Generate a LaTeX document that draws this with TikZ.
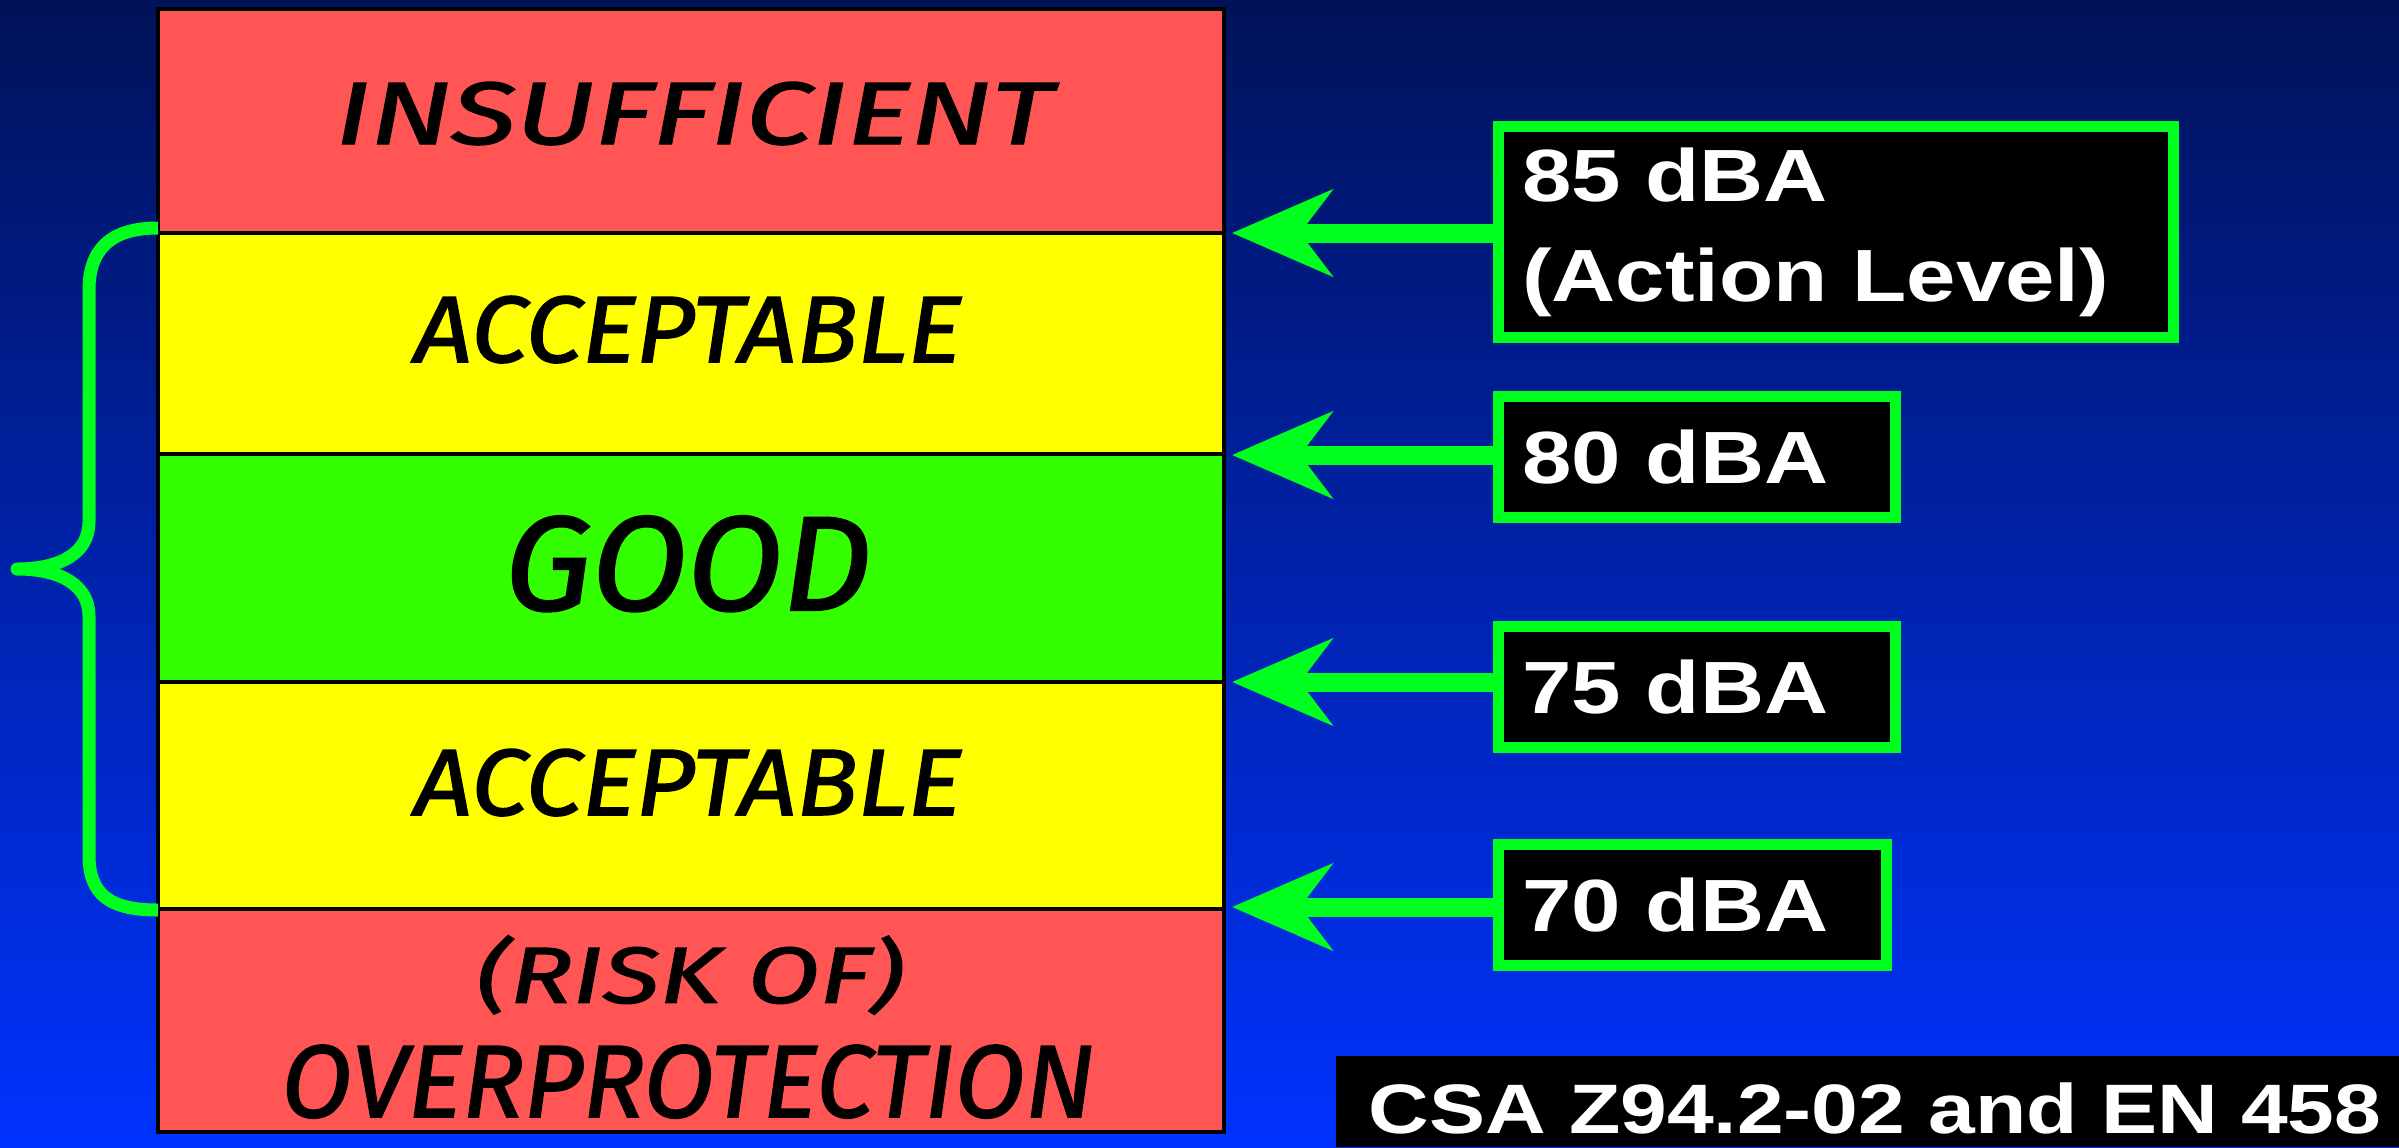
\documentclass[tikz,border=0pt]{standalone}
\usepackage{fontspec}
\usepackage{graphicx}
\usetikzlibrary{arrows.meta}
\setmainfont{Liberation Sans}
\newfontfamily\labelfont[FakeStretch=1.2]{Liberation Sans}
\newfontfamily\handfont[FakeBold=1.6]{Fira Sans}
\definecolor{bgtop}{RGB}{0,18,88}
\definecolor{bgmid}{RGB}{0,36,196}
\definecolor{bgbot}{RGB}{0,51,255}
\definecolor{bandred}{RGB}{255,85,85}
\definecolor{bandyellow}{RGB}{255,255,0}
\definecolor{bandgreen}{RGB}{51,255,0}
\definecolor{marker}{RGB}{0,255,30}
% hand-lettered zone label, fitted to a given width and cap height
\newcommand\handtext[3]{\resizebox{#1}{#2}{\handfont\itshape #3}}
\begin{document}
\begin{tikzpicture}[x=0.5pt,y=-0.5pt,
  band/.style={draw=black, line width=2pt},
  zone/.style={inner sep=0pt, text=black},
  levelbox/.style={draw=marker, fill=black, line width=5.5pt, text=white,
    font=\labelfont\bfseries\fontsize{37}{50}\selectfont,
    align=left, inner xsep=12pt, inner ysep=0pt},
  levelarrow/.style={draw=marker, line width=9.5pt,
    -{Stealth[length=50pt,width=43pt,inset=16pt]}},
  bracestyle/.style={draw=marker, line width=6.5pt, line join=round}]

% background
\useasboundingbox (0,0) rectangle (2399,1147);
\shade[top color=bgtop, middle color=bgmid, bottom color=bgbot] (0,0) rectangle (2399,1147);

% protection zones
\filldraw[band, fill=bandred]    (158,9)   rectangle (1224,233);
\filldraw[band, fill=bandyellow] (158,233) rectangle (1224,454);
\filldraw[band, fill=bandgreen]  (158,454) rectangle (1224,682);
\filldraw[band, fill=bandyellow] (158,682) rectangle (1224,909);
\filldraw[band, fill=bandred]    (158,909) rectangle (1224,1132);

\node[zone, anchor=base] (tinsuf) at (694,144) {\handtext{358.5pt}{31pt}{INSUFFICIENT}};
\node[zone, anchor=base] (tacc1) at (688,362) {\handtext{273.5pt}{33pt}{ACCEPTABLE}};
\node[zone, anchor=base] (tgood) at (688,610) {\handtext{183.5pt}{47pt}{GOOD}};
\node[zone, anchor=base] (tacc2) at (688,815) {\handtext{273.5pt}{33pt}{ACCEPTABLE}};
\node[zone] (trisk) at (690,975) {\resizebox*{213.5pt}{39.5pt}{\handfont\itshape (RISK OF)}};
\node[zone, anchor=base] (tover) at (688,1117) {\handtext{406.5pt}{36pt}{OVERPROTECTION}};

% brace over the acceptable range
\draw[bracestyle] (158,228) .. controls (110,228) and (89,250) .. (89,290)
  -- (89,522) .. controls (89,552) and (62,569) .. (17,569)
  .. controls (62,569) and (89,586) .. (89,616)
  -- (89,855) .. controls (89,895) and (110,910) .. (158,910);

% level markers
\coordinate (c85) at (1232,233);
\coordinate (c80) at (1232,455);
\coordinate (c75) at (1232,682);
\coordinate (c70) at (1232,907);

\node[levelbox, text width=313.5pt, minimum height=105.5pt] (b85) at (1835.5,232) {85 dBA\\(Action Level)};
\node[levelbox, text width=174.5pt, minimum height=60.5pt] (b80) at (1697,457) {80 dBA};
\node[levelbox, text width=174.5pt, minimum height=60.5pt] (b75) at (1697,687) {75 dBA};
\node[levelbox, text width=170pt, minimum height=60.5pt] (b70) at (1692.5,905) {70 dBA};

\draw[levelarrow] (b85.west |- c85) -- (c85);
\draw[levelarrow] (b80.west |- c80) -- (c80);
\draw[levelarrow] (b75.west |- c75) -- (c75);
\draw[levelarrow] (b70.west |- c70) -- (c70);

% standards reference
\node[fill=black, inner sep=0pt, anchor=north west, minimum width=531.5pt, minimum height=45.5pt] (csabox) at (1336,1056) {};
\node[anchor=base west, inner sep=0pt, text=white, font=\labelfont\bfseries\fontsize{35}{42}\selectfont] (csa) at (1368,1133) {CSA Z94.2-02 and EN 458};
\end{tikzpicture}
\end{document}
